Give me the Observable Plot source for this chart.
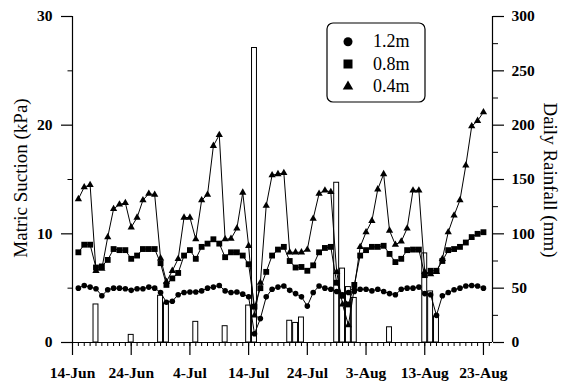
<!DOCTYPE html>
<html>
<head>
<meta charset="utf-8">
<script src="https://cdn.jsdelivr.net/npm/d3@7"></script>
<script src="https://cdn.jsdelivr.net/npm/@observablehq/plot@0.6"></script>
<style>
  body { margin: 0; background: #fff; }
  #chart svg { display: block; }
</style>
</head>
<body>
<div id="chart"></div>
<script>
// Daily readings start on this date, one value per day.
const firstReading = "2001-06-15";

// Matric suction (kPa) at three depths.
const suction12m = [
  5.0, 5.25, 5.1, 4.95, 4.3, 4.85, 5.0, 5.0, 4.95, 4.8,
  4.95, 4.95, 5.1, 5.0, 4.6, 3.7, 3.8, 4.4, 4.6, 4.65,
  4.65, 4.75, 5.0, 5.1, 5.25, 4.75, 4.6, 4.65, 4.45, 4.2,
  0.8, 2.2, 4.2, 4.9, 5.1, 5.2, 4.8, 4.5, 4.2, 3.35,
  4.6, 5.2, 5.0, 4.9, 4.7, 4.4, 4.6, 4.7, 4.9, 4.9,
  4.75, 4.9, 4.7, 4.5, 4.4, 4.9, 5.0, 5.0, 5.1, 4.5,
  4.4, 2.5, 4.3, 4.6, 4.85, 5.0, 5.2, 5.25, 5.2, 5.0
];
const suction08m = [
  8.3, 9.0, 9.0, 6.9, 7.0, 7.6, 8.6, 8.5, 8.5, 7.7,
  8.0, 8.6, 8.6, 8.6, 7.3, 5.3, 5.9, 6.4, 8.0, 8.5,
  7.7, 8.8, 9.1, 9.5, 9.1, 7.85, 8.3, 8.3, 8.0, 7.2,
  3.3, 5.0, 6.5, 8.0, 8.55, 8.8, 7.5, 6.9, 6.95, 6.6,
  7.1, 8.3, 8.7, 8.8, 5.5, 4.3, 3.5, 5.3, 8.0, 8.5,
  8.8, 8.8, 8.9, 8.15, 7.4, 7.7, 8.5, 8.55, 8.55, 6.2,
  6.6, 6.6, 7.5, 8.5, 8.6, 8.8, 9.2, 9.7, 10.0, 10.15
];
const suction04m = [
  13.2, 14.3, 14.5, 6.6, 6.8, 9.7, 12.3, 12.7, 12.85, 10.6,
  11.5, 13.1, 13.7, 13.6, 7.75, 5.6, 6.6, 7.7, 11.5, 11.5,
  9.5, 13.1, 13.6, 18.1, 19.1, 9.5, 9.55, 10.5, 13.8, 8.9,
  2.5, 5.5, 12.6, 15.4, 15.5, 15.6, 8.3, 8.3, 8.3, 8.55,
  11.4, 13.7, 14.0, 13.85, 6.5, 3.5, 1.6, 5.0, 8.8, 10.15,
  11.2, 14.1, 15.5, 10.3, 9.0, 9.3, 10.5, 14.0, 14.0, 6.5,
  6.3, 6.5, 7.7, 10.15, 11.7, 13.1, 16.3, 19.9, 20.4, 21.2
];

// Daily rainfall (mm) on the days it rained.
const rainDates = [
  "2001-06-18", "2001-06-24", "2001-06-29", "2001-06-30", "2001-07-05",
  "2001-07-10", "2001-07-14", "2001-07-15", "2001-07-21", "2001-07-22",
  "2001-07-23", "2001-07-29", "2001-07-30", "2001-07-31", "2001-08-01",
  "2001-08-07", "2001-08-13", "2001-08-14", "2001-08-15"
];
const rainMm = [
  35, 7, 43, 36, 19,
  15, 34, 271, 20, 18,
  23, 147, 68, 51, 41,
  14, 82, 47, 24
];

// Axis ticks.
const dateTicks = ["2001-06-14", "2001-06-24", "2001-07-04", "2001-07-14",
                   "2001-07-24", "2001-08-03", "2001-08-13", "2001-08-23"];
const suctionTicks = [0, 10, 20, 30];
const rainTicks = [0, 50, 100, 150, 200, 250, 300];

// 300 mm of rain shares the height of 30 kPa.
const mmPerKPa = 10;

const seriesInfo = [
  {name: "1.2m", symbol: "circle", r: 2.8, values: suction12m},
  {name: "0.8m", symbol: "square", r: 3.3, values: suction08m},
  {name: "0.4m", symbol: "triangle", r: 2.7, values: suction04m}
];

const DAY = 864e5;
const t0 = new Date(firstReading + "T00:00:00Z");
const readings = seriesInfo.flatMap(s =>
  s.values.map((v, i) => ({series: s.name, symbol: s.symbol, r: s.r, date: new Date(+t0 + i * DAY), value: v}))
);
const rain = rainDates.map((d, i) => ({date: new Date(d + "T00:00:00Z"), mm: rainMm[i]}));
const majorDates = dateTicks.map(d => new Date(d + "T00:00:00Z"));

const xStart = new Date("2001-06-14T00:00:00Z");
const xEnd = new Date("2001-08-24T13:00:00Z");
const dayTicks = d3.utcDay.range(xStart, xEnd);
const fmt = d3.utcFormat("%-d-%b");
const blank = () => "";

const marks = [
  // rainfall bars, hollow
  Plot.rectY(rain, {
    x1: d => new Date(+d.date - 0.42 * DAY),
    x2: d => new Date(+d.date + 0.42 * DAY),
    y1: 0,
    y2: d => d.mm / mmPerKPa,
    fill: "white", stroke: "black", strokeWidth: 1
  }),
  // frame lines: bottom, left, right
  Plot.ruleY([0], {stroke: "black", strokeWidth: 1.2}),
  Plot.ruleX([xStart, xEnd], {stroke: "black", strokeWidth: 1.2}),
  // x axis
  Plot.axisX({ticks: dayTicks, tickSize: 4, tickFormat: blank, label: null, strokeWidth: 1}),
  Plot.axisX({ticks: majorDates, tickSize: 13, tickPadding: 11, tickFormat: fmt, label: null, strokeWidth: 1.2}),
  // left axis
  Plot.axisY({anchor: "left", ticks: [5, 15, 25], tickSize: 4.5, tickFormat: blank, label: null}),
  Plot.axisY({anchor: "left", ticks: suctionTicks, tickSize: 11, tickPadding: 9, label: null, strokeWidth: 1.2}),
  // right axis (rainfall)
  Plot.axisY({anchor: "right", ticks: d3.range(25, 300, 50).map(v => v / mmPerKPa), tickSize: 5, tickFormat: blank, label: null}),
  Plot.axisY({anchor: "right", ticks: rainTicks.map(v => v / mmPerKPa), tickSize: 11, tickPadding: 8,
              tickFormat: v => String(Math.round(v * mmPerKPa)), label: null, strokeWidth: 1.2})
];

for (const s of seriesInfo) {
  const rows = readings.filter(d => d.series === s.name);
  marks.push(Plot.line(rows, {x: "date", y: "value", stroke: "black", strokeWidth: 1}));
  marks.push(Plot.dot(rows, {x: "date", y: "value", symbol: () => s.symbol, r: s.r, fill: "black", stroke: "none"}));
}

const chart = Plot.plot({
  width: 571,
  height: 385,
  marginLeft: 72,
  marginRight: 79,
  marginTop: 16,
  marginBottom: 43,
  style: {fontFamily: "'Liberation Serif', 'Times New Roman', serif", fontSize: "15.5px", fontWeight: "bold", background: "white", color: "black"},
  x: {type: "utc", domain: [xStart, xEnd], axis: null},
  y: {domain: [0, 30], axis: null},
  symbol: {domain: ["circle", "square", "triangle"], range: ["circle", "square", "triangle"]},
  marks
});

document.getElementById("chart").append(chart);

// axis titles and legend
const svg = d3.select(chart);
const titleFont = "'Liberation Serif', 'Times New Roman', serif";

svg.append("text")
  .attr("transform", "translate(27,178) rotate(-90)")
  .attr("text-anchor", "middle")
  .attr("font-family", titleFont).attr("font-size", 19).attr("font-weight", "normal")
  .attr("fill", "black")
  .text("Matric Suction (kPa)");

svg.append("text")
  .attr("transform", "translate(544,180) rotate(90)")
  .attr("text-anchor", "middle")
  .attr("font-family", titleFont).attr("font-size", 19).attr("font-weight", "normal")
  .attr("fill", "black")
  .text("Daily Rainfall (mm)");

const legend = svg.append("g").attr("transform", "translate(327,23)");
legend.append("rect")
  .attr("width", 98).attr("height", 79).attr("rx", 6)
  .attr("fill", "white").attr("stroke", "black").attr("stroke-width", 1.2);

const legendSymbols = {circle: d3.symbolCircle, square: d3.symbolSquare, triangle: d3.symbolTriangle};
const legendSizes = {circle: Math.PI * 4.5 * 4.5, square: 81, triangle: 48};
const legendRows = [18.7, 41, 63.5];
const legendBaselines = [23.7, 47, 68.7];
seriesInfo.forEach((s, i) => {
  legend.append("path")
    .attr("transform", `translate(21,${legendRows[i]})`)
    .attr("d", d3.symbol(legendSymbols[s.symbol], legendSizes[s.symbol])())
    .attr("fill", "black");
  legend.append("text")
    .attr("x", 46).attr("y", legendBaselines[i])
    .attr("text-anchor", "start")
    .attr("font-family", titleFont).attr("font-size", 18).attr("font-weight", "normal")
    .attr("fill", "black")
    .text(s.name);
});
</script>
</body>
</html>
